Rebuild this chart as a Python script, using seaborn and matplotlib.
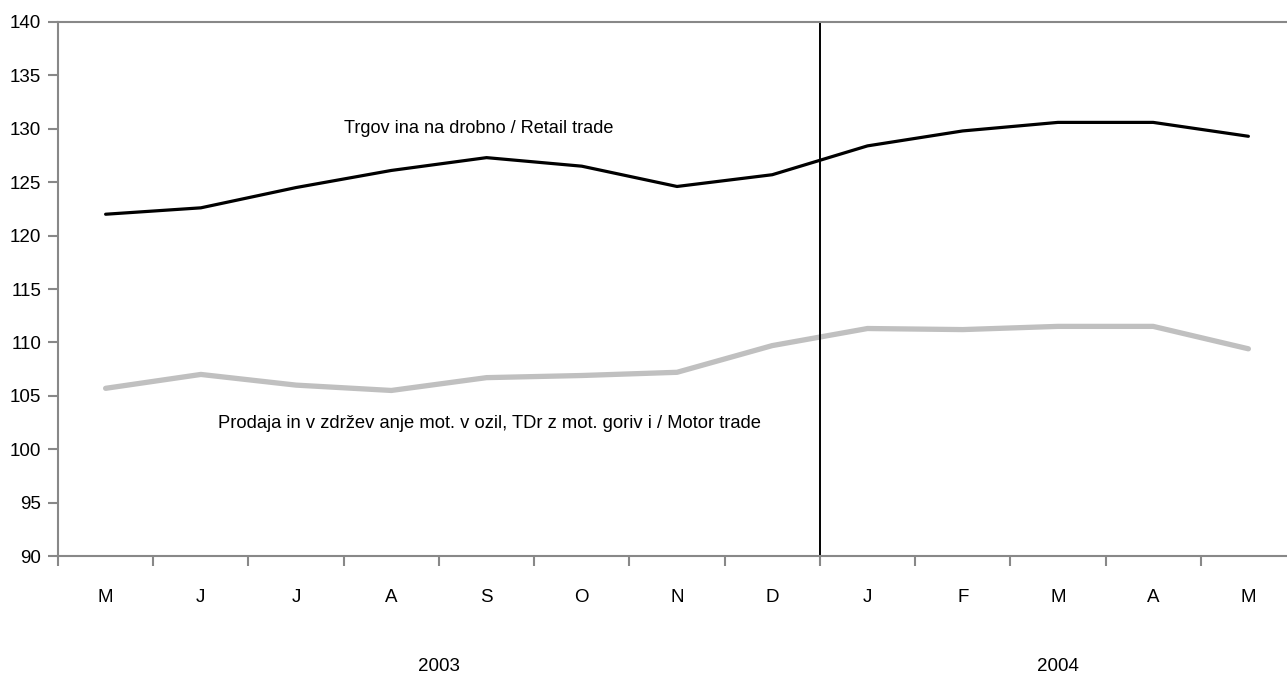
import matplotlib
matplotlib.use("Agg")
import matplotlib.pyplot as plt
import seaborn as sns
import pandas as pd
import numpy as np

months = ["M", "J", "J", "A", "S", "O", "N", "D", "J", "F", "M", "A", "M"]
retail = [122.0, 122.6, 124.5, 126.1, 127.3, 126.5, 124.6, 125.7, 128.4, 129.8, 130.6, 130.6, 129.3]
motor = [105.7, 107.0, 106.0, 105.5, 106.7, 106.9, 107.2, 109.7, 111.3, 111.2, 111.5, 111.5, 109.4]
years = ["2003", "2004"]
yticks = list(range(90, 141, 5))

sns.set_theme(style="white")
plt.rcParams['font.family'] = ['Liberation Sans', 'DejaVu Sans']
plt.rcParams['text.color'] = 'black'
plt.rcParams['xtick.color'] = 'black'
plt.rcParams['ytick.color'] = 'black'

fig = plt.figure(figsize=(12.87, 6.76), dpi=100)
ax = fig.add_axes([58/1287, 1-556/676, 1238/1287, (556-22)/676])

x = np.arange(len(months))
df = pd.DataFrame({"x": np.concatenate([x, x]),
                   "value": retail + motor,
                   "series": ["retail"]*len(x) + ["motor"]*len(x)})
sns.lineplot(data=df[df.series == "motor"], x="x", y="value", color="#c0c0c0", linewidth=3.8, ax=ax, legend=False)
sns.lineplot(data=df[df.series == "retail"], x="x", y="value", color="black", linewidth=2.3, ax=ax, legend=False)

ax.set_xlim(-0.5, len(months) - 0.5)
ax.set_ylim(90, 140)
ax.set_yticks(yticks)
ax.set_yticklabels([str(v) for v in yticks], fontsize=13.5)
ax.set_xticks(x)
ax.set_xticklabels(months, fontsize=13.5)
ax.set_xticks(np.arange(-0.5, len(months), 1), minor=True)
ax.tick_params(axis="x", which="major", bottom=True, length=0, pad=24, labelcolor="black")
ax.tick_params(axis="x", which="minor", bottom=True, length=7, color="#888888", width=1.5, direction="out")
ax.tick_params(axis="y", left=True, length=7, color="#888888", width=1.5, direction="out", pad=5, labelcolor="black")
ax.set_xlabel("")
ax.set_ylabel("")
for s in ["left", "bottom", "top"]:
    ax.spines[s].set_color("#888888")
    ax.spines[s].set_linewidth(1.5)
ax.spines["right"].set_visible(False)

ax.axvline(7.5, color="black", linewidth=1.4)

ax.text(2.5, 130.0, "Trgov ina na drobno / Retail trade", fontsize=13.1, ha="left", va="center", color="black")
ax.text(1.18, 102.4, "Prodaja in v zdržev anje mot. v ozil, TDr z mot. goriv i / Motor trade", fontsize=13.2, ha="left", va="center", color="black")

ax.text(3.5, 79.7, years[0], fontsize=13.5, ha="center", va="center", color="black")
ax.text(10.0, 79.7, years[1], fontsize=13.5, ha="center", va="center", color="black")

fig.savefig("out.png", dpi=100)
